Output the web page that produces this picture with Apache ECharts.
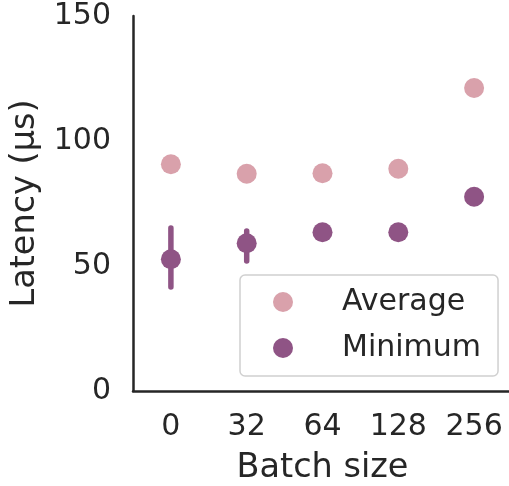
<!DOCTYPE html>
<html>
<head>
<meta charset="utf-8">
<script src="https://cdn.jsdelivr.net/npm/echarts@6/dist/echarts.min.js"></script>
<style>html,body{margin:0;padding:0;background:#fff;}#c{width:509px;height:486px;}</style>
</head>
<body>
<div id="c"></div>
<script>
var categories = ['0', '32', '64', '128', '256'];
var averageValues = [90.7, 86.9, 87.1, 88.9, 121.2];
var minimumValues = [52.7, 59.1, 63.5, 63.5, 77.7];
var minimumErrLow = [41.6, 52.0, null, null, null];
var minimumErrHigh = [65.2, 64.0, null, null, null];
var yTicks = [0, 50, 100, 150];

var FONT = 'DejaVu Sans';
var FS = 30;
var FS_TITLE = 33.5;
var TXT = '#262626';
var AVG_COLOR = '#d9a1ab';
var MIN_COLOR = '#8f5485';

var errData = [];
for (var i = 0; i < categories.length; i++) {
  if (minimumErrLow[i] != null) errData.push([i, minimumErrLow[i], minimumErrHigh[i]]);
}

var chart = echarts.init(document.getElementById('c'), null, {renderer: 'canvas'});
chart.setOption({
  animation: false,
  backgroundColor: '#ffffff',
  grid: {left: 133, top: 16, width: 379, bottom: 95, containLabel: false, outerBoundsMode: 'none'},
  xAxis: {
    type: 'category',
    data: categories,
    boundaryGap: true,
    name: 'Batch size',
    nameLocation: 'middle',
    nameGap: 60,
    nameTextStyle: {fontFamily: FONT, fontSize: FS_TITLE, color: TXT},
    axisLine: {lineStyle: {color: TXT, width: 2.5}},
    axisTick: {show: false},
    axisLabel: {fontFamily: FONT, fontSize: FS, color: TXT, margin: 21, interval: 0, hideOverlap: false},
    splitLine: {show: false}
  },
  yAxis: {
    type: 'value',
    min: yTicks[0],
    max: yTicks[yTicks.length - 1],
    interval: 50,
    name: 'Latency (µs)',
    nameLocation: 'middle',
    nameGap: 91,
    nameTextStyle: {fontFamily: FONT, fontSize: FS_TITLE, color: TXT},
    axisLine: {show: true, lineStyle: {color: TXT, width: 2.5}},
    axisTick: {show: false},
    axisLabel: {fontFamily: FONT, fontSize: FS, color: TXT, margin: 22},
    splitLine: {show: false}
  },
  legend: {
    orient: 'vertical',
    left: 240,
    top: 275,
    padding: [9, 17, 10, 33],
    itemGap: 10,
    itemWidth: 20,
    itemHeight: 20,
    icon: 'circle',
    borderColor: '#d0d0d0',
    borderWidth: 1.5,
    borderRadius: 5,
    backgroundColor: '#ffffff',
    textStyle: {fontFamily: FONT, fontSize: FS, color: TXT, lineHeight: 36, padding: [0, 0, 0, 44]},
    data: ['Average', 'Minimum']
  },
  series: [
    {
      name: 'Minimum err',
      type: 'custom',
      data: errData,
      z: 2,
      silent: true,
      renderItem: function (params, api) {
        var p1 = api.coord([api.value(0), api.value(1)]);
        var p2 = api.coord([api.value(0), api.value(2)]);
        return {
          type: 'line',
          shape: {x1: p1[0], y1: p1[1], x2: p2[0], y2: p2[1]},
          style: {stroke: MIN_COLOR, lineWidth: 5.5, lineCap: 'round'}
        };
      }
    },
    {
      name: 'Average',
      type: 'scatter',
      data: averageValues,
      symbol: 'circle',
      symbolSize: 20,
      itemStyle: {color: AVG_COLOR, opacity: 1},
      z: 3
    },
    {
      name: 'Minimum',
      type: 'scatter',
      data: minimumValues,
      symbol: 'circle',
      symbolSize: 20,
      itemStyle: {color: MIN_COLOR, opacity: 1},
      z: 3
    }
  ]
});
</script>
</body>
</html>
